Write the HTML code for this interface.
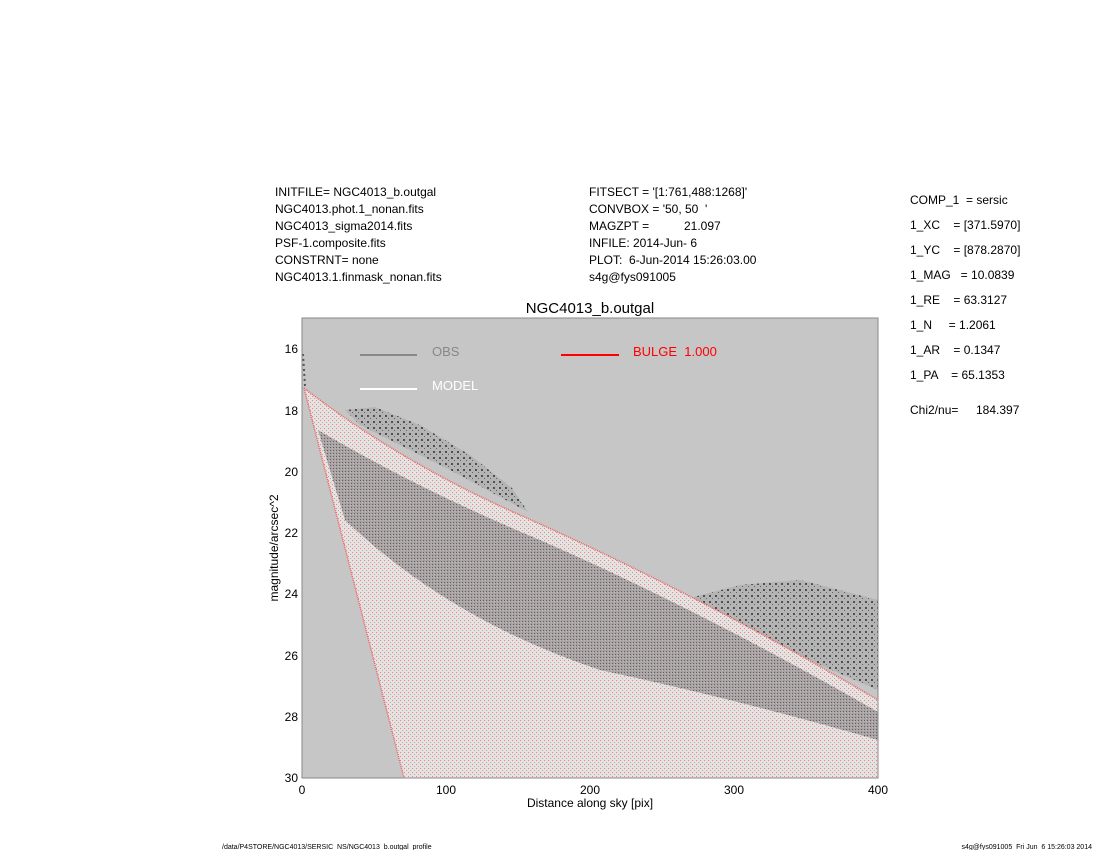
<!DOCTYPE html>
<html><head><meta charset="utf-8"><style>
body{margin:0;background:#fff;width:1100px;height:850px;overflow:hidden}
svg text{font-family:"Liberation Sans",sans-serif;white-space:pre}
</style></head><body>
<svg width="1100" height="850" xmlns="http://www.w3.org/2000/svg">
<defs>
<pattern id="dots" width="4" height="4" patternUnits="userSpaceOnUse">
<rect width="4" height="4" fill="#e6e2e2"/><rect x="0" y="0" width="1" height="1" fill="#f08080"/><rect x="2" y="2" width="1" height="1" fill="#b0b0b0"/>
</pattern>
<pattern id="dk" width="3" height="3" patternUnits="userSpaceOnUse">
<rect width="3" height="3" fill="#a6a4a4"/><rect x="0" y="0" width="1" height="1" fill="#606060"/><rect x="2" y="1" width="1" height="1" fill="#d0b0b0"/>
</pattern>
<pattern id="obs" width="6" height="6" patternUnits="userSpaceOnUse">
<rect width="6" height="6" fill="#b4b4b4"/><rect x="1" y="1" width="2" height="2" fill="#505050"/><rect x="4" y="4" width="1" height="1" fill="#606060"/>
</pattern>
</defs>
<g font-size="12" fill="#000">
<text x="275" y="196">INITFILE= NGC4013_b.outgal</text>
<text x="275" y="213">NGC4013.phot.1_nonan.fits</text>
<text x="275" y="230">NGC4013_sigma2014.fits</text>
<text x="275" y="247">PSF-1.composite.fits</text>
<text x="275" y="264">CONSTRNT= none</text>
<text x="275" y="281">NGC4013.1.finmask_nonan.fits</text>
<text x="589" y="196">FITSECT = '[1:761,488:1268]'</text>
<text x="589" y="213">CONVBOX = '50, 50  '</text>
<text x="589" y="230">MAGZPT =</text><text x="684" y="230">21.097</text>
<text x="589" y="247">INFILE: 2014-Jun- 6</text>
<text x="589" y="264">PLOT:  6-Jun-2014 15:26:03.00</text>
<text x="589" y="281">s4g@fys091005</text>
<text x="910" y="204">COMP_1  = sersic</text>
<text x="910" y="229">1_XC    = [371.5970]</text>
<text x="910" y="254">1_YC    = [878.2870]</text>
<text x="910" y="279">1_MAG   = 10.0839</text>
<text x="910" y="304">1_RE    = 63.3127</text>
<text x="910" y="329">1_N     = 1.2061</text>
<text x="910" y="354">1_AR    = 0.1347</text>
<text x="910" y="379">1_PA    = 65.1353</text>
<text x="910" y="414">Chi2/nu=</text><text x="976" y="414">184.397</text>
</g>
<text x="590" y="313" font-size="15" text-anchor="middle">NGC4013_b.outgal</text>
<rect x="302" y="318" width="576" height="460" fill="#c6c6c6"/>
<!-- obs clusters above -->
<path d="M345,410 L375,407 L420,425 L470,455 L512,488 L528,512 L450,470 L360,425 Z" fill="url(#obs)"/>
<path d="M690,598 L740,585 L800,580 L878,600 L878,690 L820,665 L740,625 Z" fill="url(#obs)"/>
<!-- model region -->
<path d="M304,388 Q400,462 520,515 Q700,595 878,700 L878,778 L404,778 Z" fill="url(#dots)"/>
<path d="M318,430 Q420,490 540,540 Q700,610 878,712 L878,740 Q740,700 600,670 Q450,620 345,520 Z" fill="url(#dk)"/>
<path d="M304,388 Q400,462 520,515 Q700,595 878,700" fill="none" stroke="#f06060" stroke-width="1.5" stroke-dasharray="1 1"/>
<path d="M304,388 L404,778" fill="none" stroke="#f06060" stroke-width="1.5" stroke-dasharray="1 1"/>
<path d="M303,354 L305,386" stroke="#555" stroke-width="2" stroke-dasharray="2 3"/>
<rect x="302" y="318" width="576" height="460" fill="none" stroke="#888" stroke-width="1"/>
<!-- legend -->
<line x1="360" y1="355" x2="417" y2="355" stroke="#888" stroke-width="2"/>
<text x="432" y="356" font-size="13" fill="#888">OBS</text>
<line x1="360" y1="389" x2="417" y2="389" stroke="#fff" stroke-width="2"/>
<text x="432" y="390" font-size="13" fill="#fff">MODEL</text>
<line x1="561" y1="355" x2="619" y2="355" stroke="#f00" stroke-width="2"/>
<text x="633" y="356" font-size="13" fill="#f00">BULGE  1.000</text>
<g font-size="12" text-anchor="end">
<text x="298" y="353">16</text><text x="298" y="415">18</text><text x="298" y="476">20</text>
<text x="298" y="537">22</text><text x="298" y="598">24</text><text x="298" y="660">26</text>
<text x="298" y="721">28</text><text x="298" y="782">30</text>
</g>
<g font-size="12" text-anchor="middle">
<text x="302" y="794">0</text><text x="446" y="794">100</text><text x="590" y="794">200</text>
<text x="734" y="794">300</text><text x="878" y="794">400</text>
</g>
<text x="590" y="807" font-size="12" text-anchor="middle">Distance along sky [pix]</text>
<text transform="translate(278,548) rotate(-90)" font-size="12" text-anchor="middle">magnitude/arcsec^2</text>
<text x="222" y="849" font-size="7">/data/P4STORE/NGC4013/SERSIC_NS/NGC4013_b.outgal_profile</text>
<text x="1092" y="849" font-size="7" text-anchor="end">s4g@fys091005  Fri Jun  6 15:26:03 2014</text>
</svg>
</body></html>
